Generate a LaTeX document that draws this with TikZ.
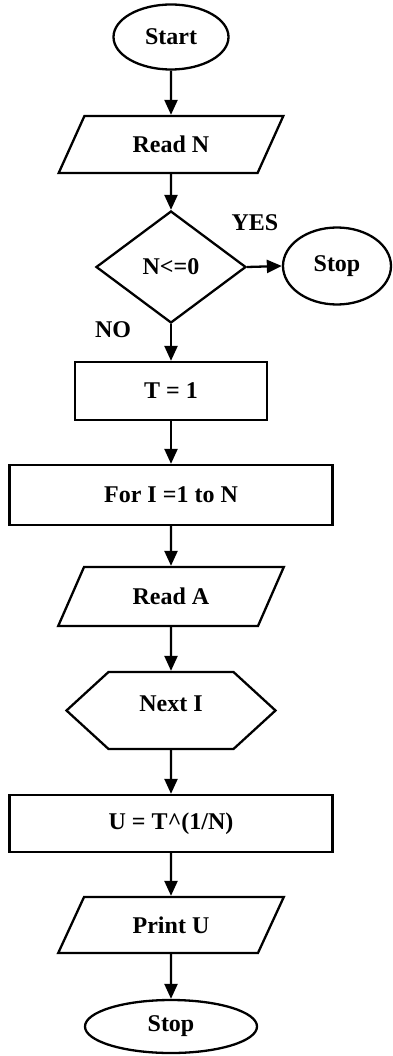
\documentclass[tikz,border=0pt]{standalone}
\usepackage{fontspec}
\setmainfont{Liberation Serif}
\usepackage{tikz}
\usetikzlibrary{shapes.geometric,shapes.symbols,arrows.meta}

\tikzset{
  base/.style={draw,line width=2.3pt,font=\fontsize{24}{28}\selectfont\bfseries,inner sep=0pt},
  term/.style={base,ellipse},
  io/.style={base,trapezium,trapezium left angle=56,trapezium right angle=124,trapezium stretches=true},
  proc/.style={base,rectangle},
  cond/.style={base,diamond},
  loopend/.style={base,signal,signal to=west and east,signal pointer angle=85},
  flow/.style={line width=2.3pt,-{Triangle[length=15pt,width=13pt]}},
  tag/.style={font=\fontsize{24}{28}\selectfont\bfseries}
}

\begin{document}
\begin{tikzpicture}[x=1pt,y=-1pt]
  \useasboundingbox (0,0) rectangle (392,1056);
  % shapes, top to bottom
  \node[term,minimum width=115,minimum height=65] (start) at (171,37) {Start};
  \node[io,minimum width=226,minimum height=57] (readn) at (171,144.5) {Read N};
  \node[cond,minimum width=150,minimum height=112] (test) at (171,267) {N<=0};
  \node[term,minimum width=108,minimum height=77] (halt) at (337,266) {Stop};
  \node[proc,minimum width=192,minimum height=58] (init) at (171,391) {T = 1};
  \node[proc,minimum width=323,minimum height=60] (loop) at (171,495) {For I =1 to N};
  \node[io,minimum width=227,minimum height=59] (reada) at (171,596.5) {Read A};
  \node[loopend,minimum width=209,minimum height=77] (next) at (171,710.5) {\raisebox{14pt}{Next I}};
  \node[proc,minimum width=323,minimum height=57] (calc) at (171,823.5) {U = T\^{}(1/N)};
  \node[io,minimum width=227,minimum height=56] (printu) at (171,925) {Print U};
  \node[term,minimum width=172,minimum height=53] (stop) at (171,1026.5) {Stop};
  % branch labels
  \node[tag] (yes) at (255,223) {YES};
  \node[tag] (no) at (113,330) {NO};
  % connectors
  \draw[flow] (start) -- (readn);
  \draw[flow] (readn) -- (test);
  \draw[flow] (test.east) -- (halt.west);
  \draw[flow] (test) -- (init);
  \draw[flow] (init) -- (loop);
  \draw[flow] (loop) -- (reada);
  \draw[flow] (reada) -- (next);
  \draw[flow] (next) -- (calc);
  \draw[flow] (calc) -- (printu);
  \draw[flow] (printu) -- (stop);
\end{tikzpicture}
\end{document}
